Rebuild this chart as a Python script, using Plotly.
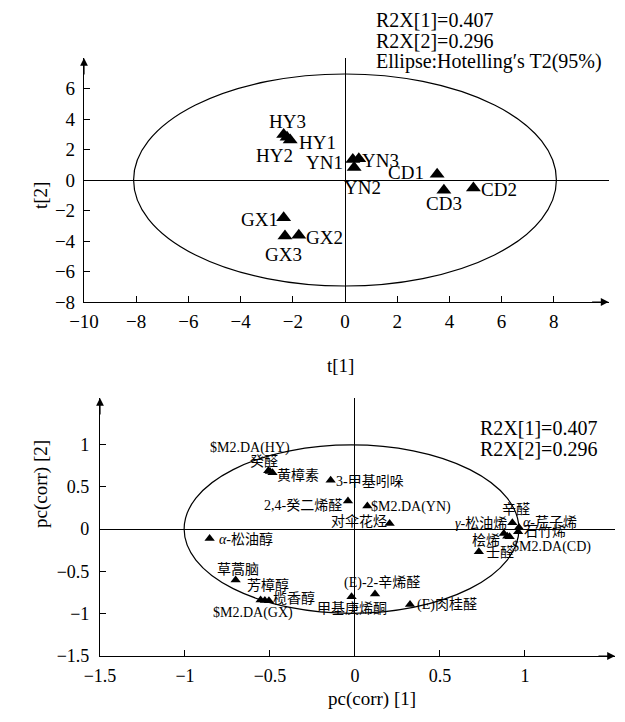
import plotly.graph_objects as go

# ---------------- data: score plot ----------------
score_names = ["HY1", "HY2", "HY3", "YN1", "YN2", "YN3",
               "CD1", "CD2", "CD3", "GX1", "GX2", "GX3"]
t1 = [-2.10, -2.22, -2.35, 0.30, 0.35, 0.53, 3.53, 4.92, 3.79, -2.35, -1.77, -2.30]
t2 = [2.62, 2.80, 2.98, 1.35, 0.82, 1.40, 0.37, -0.52, -0.67, -2.47, -3.62, -3.67]

# ---------------- data: loading plot ----------------
load_names = ["$M2.DA(HY)", "癸醛", "黄樟素", "3-甲基吲哚", "2,4-癸二烯醛",
              "$M2.DA(YN)", "对伞花烃", "<i>α</i>-松油醇", "草蒿脑", "芳樟醇",
              "榄香醇", "$M2.DA(GX)", "甲基庚烯酮", "(E)-2-辛烯醛", "(E)肉桂醛",
              "辛醛", "<i>α</i>-芹子烯", "石竹烯", "<i>γ</i>-松油烯", "桧烯",
              "$M2.DA(CD)", "壬醛"]
pc1 = [-0.51, -0.50, -0.485, -0.143, -0.041, 0.073, 0.204, -0.855, -0.702, -0.555,
       -0.506, -0.53, -0.02, 0.118, 0.324, 0.926, 0.965, 0.96, 0.876, 0.896, 0.91, 0.729]
pc2 = [0.69, 0.68, 0.665, 0.579, 0.331, 0.272, 0.067, -0.11, -0.603, -0.839,
       -0.847, -0.843, -0.80, -0.768, -0.89, 0.075, 0.02, -0.03, -0.051, -0.083, -0.09, -0.268]

r2x_1 = 0.407
r2x_2 = 0.296

top_xticks = [-10, -8, -6, -4, -2, 0, 2, 4, 6, 8]
top_yticks = [-8, -6, -4, -2, 0, 2, 4, 6]
bot_xticks = [-1.5, -1, -0.5, 0, 0.5, 1]
bot_yticks = [-1.5, -1, -0.5, 0, 0.5, 1]

# ---------------- styling: label offsets in pixels (dx right, dy down) ----------------
score_off = [(27, 2), (-13, 18), (4, -13), (-28, 3), (8, 20), (22, 2),
             (-31, -2), (26, 2), (0, 13), (-24, 2), (26, 2), (-1, 19)]
load_off = [(-18, -23), (-6, -10), (25, 2), (39, 1), (-45, 4), (44, 1), (-31, -2),
            (36, 1), (2, -11), (7, -15), (25, -3), (-12, 13), (0, 11), (7, -11),
            (37, 1), (4, -13), (31, -5), (27, 0), (-23, -10), (-21, 4), (42, 10), (21, 1)]

W, H = 625, 722
OFF = 8  # page body margin: screenshot px = figure px + OFF
FONT = "Liberation Serif, Times New Roman, Noto Sans CJK SC, serif"


def px2dom_x(a, b):
    return [(a - OFF) / W, (b - OFF) / W]


def px2dom_y(top, bottom):
    return [1 - (bottom - OFF) / H, 1 - (top - OFF) / H]


def pxx(x):
    return (x - OFF) / W


def pxy(y):
    return 1 - (y - OFF) / H


fig = go.Figure()

fig.add_trace(go.Scatter(x=t1, y=t2, mode="markers", xaxis="x", yaxis="y",
                         marker=dict(symbol="triangle-up", size=13, color="black"),
                         showlegend=False, hoverinfo="skip"))
fig.add_trace(go.Scatter(x=pc1, y=pc2, mode="markers", xaxis="x2", yaxis="y2",
                         marker=dict(symbol="triangle-up", size=9, color="black"),
                         showlegend=False, hoverinfo="skip"))

axis_common = dict(showgrid=False, showline=True, linecolor="black", linewidth=1.2,
                   ticks="inside", ticklen=6, tickcolor="black", tickwidth=1,
                   zeroline=True, zerolinecolor="black", zerolinewidth=1.2,
                   mirror=False, fixedrange=True, automargin=False)

fig.update_layout(
    template="none",
    width=W, height=H, margin=dict(l=0, r=0, t=0, b=0, pad=0),
    paper_bgcolor="white", plot_bgcolor="white",
    font=dict(family=FONT, color="black"),
    xaxis=dict(axis_common, domain=px2dom_x(84, 608.6), range=[-10, 10.1],
               tickvals=top_xticks, tickfont=dict(size=19), anchor="y", ticklabelstandoff=2),
    yaxis=dict(axis_common, domain=px2dom_y(58, 302), range=[-8, 8],
               tickvals=top_yticks, tickfont=dict(size=19), anchor="x", ticklabelstandoff=4),
    xaxis2=dict(axis_common, domain=px2dom_x(100, 615), range=[-1.5, 1.53],
                tickvals=bot_xticks, tickfont=dict(size=18), anchor="y2", ticklabelstandoff=3),
    yaxis2=dict(axis_common, domain=px2dom_y(398, 656), range=[-1.5, 1.55],
                tickvals=bot_yticks, tickfont=dict(size=18), anchor="x2", ticklabelstandoff=6),
)

# Hotelling ellipses
fig.add_shape(type="circle", xref="x", yref="y", x0=-8.1, x1=8.1, y0=-6.95, y1=6.95,
              line=dict(color="black", width=1.2))
fig.add_shape(type="circle", xref="x2", yref="y2", x0=-1.005, x1=0.965, y0=-0.995, y1=0.995,
              line=dict(color="black", width=1.2))

ann = []
# axis arrows
for xr, yr, xe, ye in [("x", "y", 10.1, -8), ("x2", "y2", 1.53, -1.5)]:
    ann.append(dict(xref=xr, yref=yr, x=xe, y=ye, ax=-18, ay=0, showarrow=True,
                    arrowhead=2, arrowsize=1.3, arrowwidth=1.2, arrowcolor="black", text=""))
for xr, yr, xe, ye in [("x", "y", -10, 8), ("x2", "y2", -1.5, 1.55)]:
    ann.append(dict(xref=xr, yref=yr, x=xe, y=ye, ax=0, ay=18, showarrow=True,
                    arrowhead=2, arrowsize=1.3, arrowwidth=1.2, arrowcolor="black", text=""))

# point labels
for name, x, y, (dx, dy) in zip(score_names, t1, t2, score_off):
    ann.append(dict(xref="x", yref="y", x=x, y=y, text=name, showarrow=False,
                    xshift=dx, yshift=-dy, font=dict(size=19)))
for name, x, y, (dx, dy) in zip(load_names, pc1, pc2, load_off):
    ann.append(dict(xref="x2", yref="y2", x=x, y=y, text=name, showarrow=False,
                    xshift=dx, yshift=-dy, font=dict(size=14)))

# R2X texts
top_lines = [f"R2X[1]={r2x_1}", f"R2X[2]={r2x_2}", "Ellipse:Hotelling′s T2(95%)"]
for i, s in enumerate(top_lines):
    ann.append(dict(xref="paper", yref="paper", x=pxx(374), y=pxy(20 + 21 * i),
                    xanchor="left", yanchor="middle", text=s, showarrow=False,
                    font=dict(size=20)))
for i, s in enumerate(top_lines[:2]):
    ann.append(dict(xref="paper", yref="paper", x=pxx(478), y=pxy(428 + 21 * i),
                    xanchor="left", yanchor="middle", text=s, showarrow=False,
                    font=dict(size=20)))

# axis titles
ann.append(dict(xref="paper", yref="paper", x=pxx(340), y=pxy(365), text="t[1]",
                showarrow=False, font=dict(size=19)))
ann.append(dict(xref="paper", yref="paper", x=pxx(28), y=pxy(180), text="t[2]",
                showarrow=False, textangle=-90, font=dict(size=19)))
ann.append(dict(xref="paper", yref="paper", x=pxx(372), y=pxy(712), text="pc(corr) [1]",
                showarrow=False, font=dict(size=19)))
ann.append(dict(xref="paper", yref="paper", x=pxx(28), y=pxy(530), text="pc(corr) [2]",
                showarrow=False, textangle=-90, font=dict(size=19)))

fig.update_layout(annotations=ann)
fig.write_html("out.html")
